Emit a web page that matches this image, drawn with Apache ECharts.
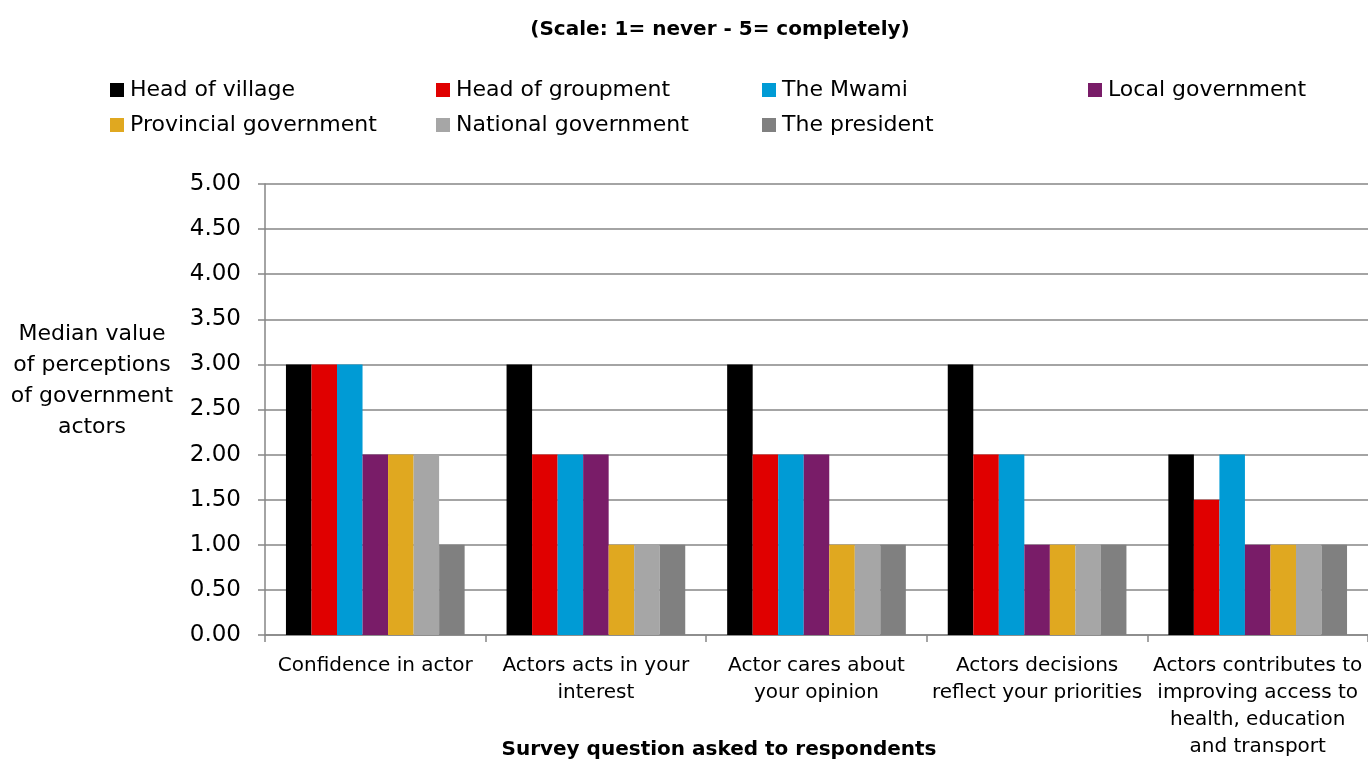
<!DOCTYPE html>
<html>
<head>
<meta charset="utf-8">
<script src="https://cdn.jsdelivr.net/npm/echarts@6/dist/echarts.min.js"></script>
<style>
  html, body { margin: 0; padding: 0; background: #ffffff; }
  #chart { width: 1368px; height: 760px; }
</style>
</head>
<body>
<div id="chart"></div>
<script>
// Survey questions (x-axis categories)
const categories = [
  'Confidence in actor',
  'Actors acts in your\ninterest',
  'Actor cares about\nyour opinion',
  'Actors decisions\nreflect your priorities',
  'Actors contributes to\nimproving access to\nhealth, education\nand transport'
];

// Median perception value for each government actor, per question
const headOfVillage        = [3, 3, 3, 3, 2];
const headOfGroupment      = [3, 2, 2, 2, 1.5];
const theMwami             = [3, 2, 2, 2, 2];
const localGovernment      = [2, 2, 2, 1, 1];
const provincialGovernment = [2, 1, 1, 1, 1];
const nationalGovernment   = [2, 1, 1, 1, 1];
const thePresident         = [1, 1, 1, 1, 1];

const seriesNames = [
  'Head of village', 'Head of groupment', 'The Mwami', 'Local government',
  'Provincial government', 'National government', 'The president'
];
const seriesValues = [
  headOfVillage, headOfGroupment, theMwami, localGovernment,
  provincialGovernment, nationalGovernment, thePresident
];
const seriesColors = ['#000000', '#e00000', '#009bd5', '#791c68', '#e0a820', '#a6a6a6', '#808080'];

// Y-axis tick range
const yMin = 0, yMax = 5, yStep = 0.5;

const FONT = '"DejaVu Sans", "Liberation Sans", sans-serif';

// Legend placed on a 4-column grid, two rows
const legendSlots = [
  [110, 79], [436, 79], [762, 79], [1088, 79],
  [110, 114], [436, 114], [762, 114]
];

const chart = echarts.init(document.getElementById('chart'));

chart.setOption({
  animation: false,
  backgroundColor: '#ffffff',
  graphic: [
    {
      type: 'text',
      x: 720,
      y: 30,
      style: {
        text: '(Scale: 1= never - 5= completely)',
        align: 'center',
        verticalAlign: 'middle',
        fontFamily: FONT,
        fontSize: 20,
        fontWeight: 'bold',
        fill: '#000'
      }
    },
    {
      type: 'text',
      x: 92,
      y: 319,
      style: {
        text: 'Median value\nof perceptions\nof government\nactors',
        align: 'center',
        verticalAlign: 'top',
        fontFamily: FONT,
        fontSize: 22,
        lineHeight: 31,
        fill: '#000'
      }
    },
    {
      type: 'text',
      x: 719,
      y: 750,
      style: {
        text: 'Survey question asked to respondents',
        align: 'center',
        verticalAlign: 'middle',
        fontFamily: FONT,
        fontSize: 20,
        fontWeight: 'bold',
        fill: '#000'
      }
    }
  ],
  legend: seriesNames.map((name, i) => ({
    data: [name],
    left: legendSlots[i][0],
    top: legendSlots[i][1],
    icon: 'rect',
    itemWidth: 14,
    itemHeight: 14,
    itemGap: 0,
    padding: 0,
    textStyle: { fontFamily: FONT, fontSize: 22, color: '#000', padding: [0, 0, 0, 1] }
  })),
  grid: { left: 265, right: 0, top: 184, bottom: 121, containLabel: false },
  xAxis: {
    type: 'category',
    data: categories,
    axisLine: { lineStyle: { color: '#868686', width: 1.5 } },
    axisTick: { show: true, length: 7, lineStyle: { color: '#868686', width: 1.5 } },
    axisLabel: {
      interval: 0,
      margin: 17,
      fontFamily: FONT,
      fontSize: 20,
      lineHeight: 27,
      color: '#000'
    }
  },
  yAxis: {
    type: 'value',
    min: yMin,
    max: yMax,
    interval: yStep,
    axisLine: { show: true, lineStyle: { color: '#868686', width: 1.5 } },
    axisTick: { show: true, length: 7, lineStyle: { color: '#868686', width: 1.5 } },
    splitLine: { lineStyle: { color: '#868686', width: 1.5 } },
    axisLabel: {
      margin: 24,
      fontFamily: FONT,
      fontSize: 23,
      color: '#000',
      formatter: v => v.toFixed(2)
    }
  },
  series: seriesNames.map((name, i) => ({
    name,
    type: 'bar',
    data: seriesValues[i],
    barGap: '0%',
    barCategoryGap: '19%',
    itemStyle: { color: seriesColors[i] }
  }))
});
</script>
</body>
</html>
